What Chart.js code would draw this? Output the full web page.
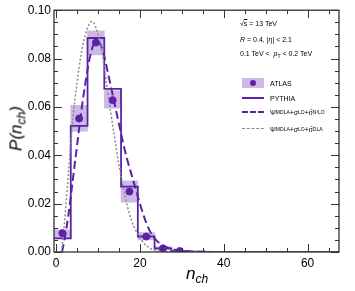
<!DOCTYPE html>
<html>
<head>
<meta charset="utf-8">
<script src="https://cdn.jsdelivr.net/npm/chart.js@4.4.1/dist/chart.umd.min.js"></script>
<style>
  body { margin: 0; background: #fff; }
  #wrap { position: relative; width: 355px; height: 291px; font-family: "Liberation Sans", Arial, sans-serif; }
  canvas { position: absolute; left: 0; top: 0; }
  .txt { position: absolute; font-size: 7px; line-height: 7px; white-space: nowrap; color: #000; }
  .txt sub { font-size: 5px; vertical-align: -2px; line-height: 0; }
  .ax { position: absolute; font-size: 17px; font-style: italic; white-space: nowrap; line-height: 17px; }
  .ax sub { font-size: 12px; vertical-align: -4px; line-height: 0; }
  .leg { position: absolute; left: 242px; height: 10px; display: flex; align-items: center; }
  .sym { position: relative; width: 22px; height: 10px; margin-right: 6px; }
</style>
</head>
<body>
<div id="wrap">
  <canvas id="nchChart" width="355" height="291"></canvas>

  <div class="txt" style="left:240px; top:20px;">&radic;<span style="text-decoration:overline">s</span> = 13 TeV</div>
  <div class="txt" style="left:240px; top:36px;"><i>R</i> = 0.4, |<i>&eta;</i>| &lt; 2.1</div>
  <div class="txt" style="left:240px; top:50px;">0.1 TeV &lt; &nbsp;<i>p</i><sub>T</sub> &lt; 0.2 TeV</div>

  <div class="leg txt" style="top:78px;">
    <div class="sym" style="background:#cdb8e6;"><div style="position:absolute;left:8px;top:2px;width:6px;height:6px;border-radius:50%;background:#5b22a6;"></div></div>ATLAS
  </div>
  <div class="leg txt" style="top:93px;">
    <div class="sym"><div style="position:absolute;left:0;top:4px;width:22px;border-top:2px solid #5b22a6;"></div></div>PYTHIA
  </div>
  <div class="leg txt" style="top:107px;">
    <div class="sym"><div style="position:absolute;left:0;top:4px;width:22px;border-top:2px dashed #5b22a6;"></div></div>&Psi;<sub>MDLA</sub>+<i>&sigma;</i><sub>LO</sub>+<i>n&#772;</i><sub>N&sup3;LO</sub>
  </div>
  <div class="leg txt" style="top:124px;">
    <div class="sym"><div style="position:absolute;left:0;top:4px;width:22px;border-top:1.5px dashed #8a8a8a;"></div></div>&Psi;<sub>MDLA</sub>+<i>&sigma;</i><sub>LO</sub>+<i>n&#772;</i><sub>DLA</sub>
  </div>

  <div class="ax" style="left:186px; top:265px;">n<sub>ch</sub></div>
  <div class="ax" style="left:-14px; top:120px; transform:rotate(-90deg); transform-origin:center; width:60px; text-align:center;">P(n<sub>ch</sub>)</div>
</div>

<script>
// axis ticks
const xTickLabels = [0, 20, 40, 60];
const yTickLabels = [0, 0.02, 0.04, 0.06, 0.08, 0.10];
const xMinorTicks = [0, 5, 10, 15, 20, 25, 30, 35, 40, 45, 50, 55, 60, 65];
const yMinorTicks = [0, 0.005, 0.01, 0.015, 0.02, 0.025, 0.03, 0.035, 0.04, 0.045, 0.05,
  0.055, 0.06, 0.065, 0.07, 0.075, 0.08, 0.085, 0.09, 0.095, 0.1];

// ATLAS data (bin mean) with systematic band
const atlasX = [1.5, 5.5, 9.5, 13.5, 17.5, 21.5, 25.5, 29.5];
const atlasY = [0.0078, 0.0552, 0.0866, 0.0628, 0.0250, 0.0064, 0.0015, 0.0004];
const atlasLo = [0.0057, 0.0500, 0.0815, 0.0595, 0.0206, 0.0050, 0.0009, 0.0002];
const atlasHi = [0.0092, 0.0607, 0.0915, 0.0667, 0.0294, 0.0080, 0.0021, 0.0006];

// PYTHIA histogram (value i holds between edge i and edge i+1)
const pythiaEdges = [-0.5, 3.5, 7.5, 11.5, 15.5, 19.5, 23.5, 27.5, 31.5, 35.5, 67.5];
const pythiaY = [0.0056, 0.0522, 0.0885, 0.0675, 0.0270, 0.0064, 0.0015, 0.0003, 0.0001, 0];

// Psi_MDLA + sigma_LO + nbar_N3LO (dashed)
const nloX = [1.4, 2, 3, 4, 5, 6, 7, 8, 9, 10, 11, 12, 13, 14, 15, 16, 17, 18, 19, 20,
  21, 22, 23, 24, 25, 26, 28, 30, 33, 37, 67.5];
const nloY = [0, 0.005, 0.016, 0.030, 0.044, 0.058, 0.070, 0.080, 0.086, 0.087, 0.084, 0.077,
  0.069, 0.061, 0.053, 0.045, 0.038, 0.032, 0.026, 0.020, 0.0145, 0.010, 0.0068, 0.0047,
  0.0032, 0.0022, 0.0011, 0.0005, 0.0002, 0.00005, 0];

// Psi_MDLA + sigma_LO + nbar_DLA (dotted)
const dlaX = [1.3, 2, 3, 4, 5, 6, 7, 8, 8.5, 9, 10, 11, 12, 13, 14, 15, 16, 17, 18, 19,
  20, 21, 22, 23, 25, 28, 67.5];
const dlaY = [0, 0.012, 0.034, 0.055, 0.070, 0.082, 0.090, 0.0945, 0.0953, 0.0948, 0.090,
  0.082, 0.070, 0.058, 0.047, 0.036, 0.027, 0.019, 0.013, 0.009, 0.006, 0.0035, 0.002,
  0.001, 0.0003, 0, 0];

const purple = '#5b22a6';

const frameTicks = {
  id: 'frameTicks',
  afterDraw(chart) {
    const { ctx, chartArea: a, scales: { x, y } } = chart;
    ctx.save();
    ctx.strokeStyle = '#333';
    ctx.lineWidth = 1;
    ctx.beginPath();
    xMinorTicks.forEach(v => {
      const px = Math.round(x.getPixelForValue(v)) + 0.5;
      const len = xTickLabels.includes(v) ? 8 : 4;
      ctx.moveTo(px, a.bottom); ctx.lineTo(px, a.bottom - len);
      ctx.moveTo(px, a.top); ctx.lineTo(px, a.top + len);
    });
    yMinorTicks.forEach(v => {
      const py = Math.round(y.getPixelForValue(v)) + 0.5;
      const len = yTickLabels.some(t => Math.abs(t - v) < 1e-9) ? 8 : 4;
      ctx.moveTo(a.left, py); ctx.lineTo(a.left + len, py);
      ctx.moveTo(a.right, py); ctx.lineTo(a.right - len, py);
    });
    ctx.stroke();
    ctx.lineWidth = 1.3;
    ctx.strokeRect(a.left, a.top, a.right - a.left, a.bottom - a.top);
    ctx.restore();
  }
};

document.addEventListener("DOMContentLoaded", function () {
  Chart.defaults.font.family = '"Liberation Sans", Arial, sans-serif';
  const ctx = document.getElementById('nchChart').getContext('2d');

  new Chart(ctx, {
    data: {
      datasets: [
        {
          type: 'scatter',
          label: 'ATLAS',
          data: atlasX.map((v, i) => ({ x: v, y: atlasY[i] })),
          backgroundColor: purple,
          borderColor: purple,
          pointRadius: 3.5,
          order: 0
        },
        {
          type: 'line',
          label: 'DLA',
          data: dlaX.map((v, i) => ({ x: v, y: dlaY[i] })),
          borderColor: '#8a8a8a',
          borderWidth: 1.5,
          borderDash: [2, 2],
          pointRadius: 0,
          cubicInterpolationMode: 'monotone',
          order: 1
        },
        {
          type: 'line',
          label: 'N3LO',
          data: nloX.map((v, i) => ({ x: v, y: nloY[i] })),
          borderColor: purple,
          borderWidth: 2,
          borderDash: [8, 4],
          pointRadius: 0,
          cubicInterpolationMode: 'monotone',
          order: 2
        },
        {
          type: 'line',
          label: 'PYTHIA',
          data: pythiaEdges.map((v, i) => ({ x: v, y: pythiaY[Math.min(i, pythiaY.length - 1)] })),
          borderColor: purple,
          borderWidth: 1.8,
          stepped: 'before',
          pointRadius: 0,
          order: 3
        },
        {
          type: 'bar',
          label: 'ATLAS syst',
          data: atlasX.map((v, i) => ({ x: v, y: [atlasLo[i], atlasHi[i]] })),
          backgroundColor: '#cdb8e6',
          borderWidth: 0,
          barPercentage: 1,
          categoryPercentage: 1,
          order: 4
        }
      ]
    },
    options: {
      responsive: false,
      animation: false,
      layout: { padding: { left: 14, top: 8, right: 16, bottom: 0 } },
      plugins: {
        legend: { display: false },
        tooltip: { enabled: false }
      },
      scales: {
        x: {
          type: 'linear',
          offset: false,
          min: -0.5,
          max: 67.5,
          grid: { display: false, drawTicks: false },
          border: { display: false },
          afterBuildTicks: s => { s.ticks = xTickLabels.map(v => ({ value: v })); },
          afterFit: s => { s.height = 39; },
          ticks: { color: '#000', font: { size: 12 }, padding: 4, maxRotation: 0, autoSkip: false }
        },
        y: {
          min: 0,
          max: 0.1,
          grid: { display: false, drawTicks: false },
          border: { display: false },
          afterBuildTicks: s => { s.ticks = yTickLabels.map(v => ({ value: v })); },
          afterFit: s => { s.width = 40; },
          ticks: { color: '#000', font: { size: 12 }, padding: 3, callback: v => v.toFixed(2) }
        }
      }
    },
    plugins: [frameTicks]
  });
});
</script>
</body>
</html>
